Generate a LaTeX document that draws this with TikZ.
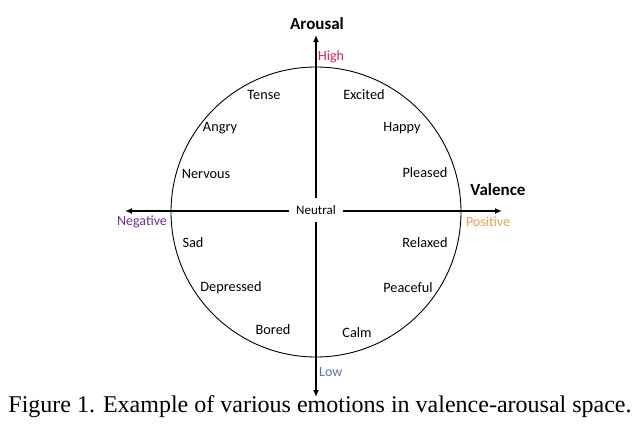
\documentclass[tikz,border=0pt]{standalone}
\usepackage{fontspec}
\setmainfont{Carlito}
\newfontfamily\capfont{Liberation Serif}
\usetikzlibrary{arrows.meta}
\definecolor{highc}{RGB}{214,34,90}
\definecolor{lowc}{RGB}{90,120,170}
\definecolor{negc}{RGB}{112,48,160}
\definecolor{posc}{RGB}{240,160,80}
\begin{document}
\begin{tikzpicture}[x=1pt,y=-1pt,
  emo/.style={inner sep=0pt,font=\fontsize{14.3}{16}\selectfont},
  axislabel/.style={inner sep=0pt,font=\bfseries\fontsize{17}{19}\selectfont},
  pole/.style={inner sep=0pt,font=\fontsize{14}{16}\selectfont},
  axis/.style={line width=2pt,-{Latex[length=7pt,width=6pt]}}]
\useasboundingbox (0,0) rectangle (640,431);
\fill[white] (0,0) rectangle (640,431);
\node[circle,draw,line width=0.9pt,minimum size=290pt,inner sep=0pt] (circ) at (316,212) {};
\node[inner sep=0pt,outer sep=0pt,minimum width=54pt,minimum height=24pt,font=\fontsize{13}{14}\selectfont] (neutral) at (316,210) {Neutral};
\coordinate (top) at (316,35);
\coordinate (bottom) at (316,397);
\coordinate (left) at (125,211);
\coordinate (right) at (502,211);
\draw[axis] (neutral) -- (top);
\draw[axis] (neutral) -- (bottom);
\draw[axis] (neutral.west |- left) -- (left);
\draw[axis] (neutral.east |- right) -- (right);
\node[axislabel] (arousal) at (317,24) {Arousal};
\node[axislabel] (valence) at (498,190) {Valence};
\node[pole,text=highc,anchor=west] (high) at (318,57) {High};
\node[pole,text=lowc,anchor=west] (low) at (319,372) {Low};
\node[pole,text=negc] (neg) at (142,222) {Negative};
\node[pole,text=posc] (pos) at (488,222) {Positive};
\node[emo] (tense) at (264,95) {Tense};
\node[emo] (excited) at (364,95) {Excited};
\node[emo] (angry) at (220,128) {Angry};
\node[emo] (happy) at (402,128) {Happy};
\node[emo] (nervous) at (206,174) {Nervous};
\node[emo] (pleased) at (425,173) {Pleased};
\node[emo] (sad) at (193,243) {Sad};
\node[emo] (relaxed) at (425,243) {Relaxed};
\node[emo] (depressed) at (231,288) {Depressed};
\node[emo] (peaceful) at (408,288) {Peaceful};
\node[emo] (bored) at (273,330) {Bored};
\node[emo] (calm) at (357,333) {Calm};
\node[inner sep=0pt] (caption) at (320,407) {\capfont\fontsize{24}{26}\selectfont Figure 1. Example of various emotions in valence-arousal space.};
\end{tikzpicture}
\end{document}
